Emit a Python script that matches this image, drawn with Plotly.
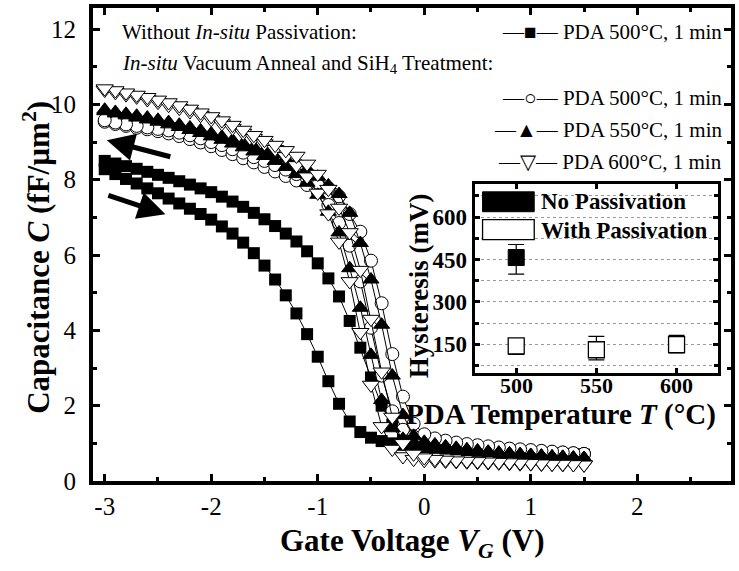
import plotly.graph_objects as go

# ---------------- data ----------------
gate_v = [-3.0, -2.9, -2.8, -2.7, -2.6, -2.5, -2.4, -2.3, -2.2, -2.1,
          -2.0, -1.9, -1.8, -1.7, -1.6, -1.5, -1.4, -1.3, -1.2, -1.1,
          -1.0, -0.9, -0.8, -0.7, -0.6, -0.5, -0.4, -0.3, -0.2, -0.1,
          0.0, 0.1, 0.2, 0.3, 0.4, 0.5, 0.6, 0.7, 0.8, 0.9,
          1.0, 1.1, 1.2, 1.3, 1.4, 1.5]

# No passivation, PDA 500C (filled squares)
sq_fwd = [8.28, 8.15, 8.02, 7.9, 7.77, 7.64, 7.5, 7.37, 7.23, 7.09,
          6.94, 6.76, 6.57, 6.33, 6.05, 5.72, 5.35, 4.93, 4.45, 3.9,
          3.3, 2.65, 2.05, 1.58, 1.3, 1.15, 1.06, 1.0, 0.96, 0.93,
          0.9, 0.88, 0.86, 0.84, 0.82, 0.8, 0.79, 0.77, 0.76, 0.75,
          0.74, 0.73, 0.72, 0.71, 0.7, 0.69]
sq_rev = [8.5, 8.43, 8.36, 8.29, 8.21, 8.13, 8.05, 7.96, 7.87, 7.77,
          7.67, 7.55, 7.42, 7.28, 7.12, 6.95, 6.77, 6.57, 6.36, 6.1,
          5.78, 5.38, 4.9, 4.25, 3.54, 2.75, 2.0, 1.5, 1.22, 1.08,
          1.0, 0.95, 0.91, 0.88, 0.85, 0.83, 0.81, 0.79, 0.78, 0.76,
          0.75, 0.74, 0.73, 0.72, 0.71, 0.7]

# Passivated, PDA 500C (open circles)
ci_fwd = [9.54, 9.48, 9.43, 9.38, 9.34, 9.29, 9.23, 9.16, 9.08, 8.99,
          8.89, 8.79, 8.68, 8.57, 8.46, 8.34, 8.22, 8.1, 7.98, 7.86,
          7.68, 7.33, 6.85, 6.25, 5.3, 4.07, 2.8, 1.85, 1.36, 1.18,
          1.1, 1.05, 1.01, 0.98, 0.95, 0.92, 0.89, 0.87, 0.85, 0.83,
          0.81, 0.79, 0.77, 0.75, 0.73, 0.72]
ci_rev = [9.58, 9.52, 9.47, 9.43, 9.39, 9.35, 9.31, 9.25, 9.18, 9.1,
          9.0, 8.92, 8.81, 8.72, 8.6, 8.5, 8.39, 8.27, 8.15, 8.03,
          7.92, 7.78, 7.56, 7.09, 6.62, 5.85, 4.72, 3.37, 2.24, 1.52,
          1.24, 1.13, 1.07, 1.02, 0.98, 0.95, 0.92, 0.89, 0.86, 0.84,
          0.82, 0.8, 0.78, 0.76, 0.74, 0.72]

# Passivated, PDA 550C (filled triangles)
tu_fwd = [9.82, 9.76, 9.71, 9.65, 9.6, 9.54, 9.47, 9.4, 9.32, 9.24,
          9.15, 9.06, 8.96, 8.86, 8.75, 8.63, 8.5, 8.34, 8.15, 7.92,
          7.6, 7.15, 6.6, 5.65, 4.6, 3.35, 2.15, 1.4, 1.12, 1.02,
          0.97, 0.93, 0.89, 0.86, 0.83, 0.8, 0.77, 0.75, 0.73, 0.71,
          0.69, 0.67, 0.65, 0.64, 0.62, 0.61]
tu_rev = [9.86, 9.8, 9.75, 9.7, 9.65, 9.59, 9.53, 9.46, 9.39, 9.31,
          9.23, 9.14, 9.05, 8.96, 8.87, 8.77, 8.67, 8.56, 8.44, 8.28,
          8.08, 7.85, 7.62, 7.12, 6.32, 5.35, 4.15, 2.8, 1.75, 1.2,
          1.04, 0.97, 0.92, 0.88, 0.84, 0.81, 0.78, 0.75, 0.73, 0.71,
          0.69, 0.67, 0.65, 0.64, 0.62, 0.61]

# Passivated, PDA 600C (open down triangles)
td_fwd = [10.38, 10.32, 10.26, 10.2, 10.13, 10.06, 9.98, 9.9, 9.81, 9.71,
          9.6, 9.49, 9.37, 9.24, 9.1, 8.96, 8.81, 8.62, 8.38, 8.08,
          7.65, 7.1, 6.35, 5.3, 3.95, 2.55, 1.45, 0.85, 0.65, 0.58,
          0.55, 0.54, 0.53, 0.52, 0.51, 0.5, 0.49, 0.48, 0.47, 0.46,
          0.46, 0.45, 0.45, 0.44, 0.44, 0.43]
td_rev = [10.42, 10.37, 10.31, 10.25, 10.19, 10.12, 10.05, 9.97, 9.88, 9.78,
          9.68, 9.57, 9.45, 9.32, 9.18, 9.05, 8.92, 8.78, 8.63, 8.42,
          8.15, 7.75, 7.25, 6.6, 5.6, 4.3, 2.9, 1.7, 1.0, 0.72,
          0.62, 0.58, 0.56, 0.54, 0.53, 0.52, 0.51, 0.5, 0.49, 0.48,
          0.47, 0.46, 0.45, 0.45, 0.44, 0.43]

x_ticks = [-3, -2, -1, 0, 1, 2]
x_tick_text = ["-3", "-2", "-1", "0", "1", "2"]
y_ticks = [0, 2, 4, 6, 8, 10, 12]
y_tick_text = ["0", "2", "4", "6", "8", "10", "12"]

# inset: hysteresis vs PDA temperature
pda_temp = [500, 550, 600]
hyst_nopass_t = [500]
hyst_nopass = [457]
hyst_nopass_up = [46]
hyst_nopass_dn = [59]
hyst_pass = [145, 131, 149]
hyst_pass_up = [8, 47, 33]
hyst_pass_dn = [30, 36, 29]
inset_x_ticks = [500, 550, 600]
inset_x_tick_text = ["500", "550", "600"]
inset_y_ticks = [150, 300, 450, 600]

SERIF = "Liberation Serif"

fig = go.Figure()

def loop(fwd, rev):
    return gate_v + gate_v[::-1], fwd + rev[::-1]

series = [
    ("Without passivation, PDA 500°C, 1 min", sq_fwd, sq_rev,
     dict(symbol="square", size=12, color="black", line=dict(width=0))),
    ("With passivation, PDA 500°C, 1 min", ci_fwd, ci_rev,
     dict(symbol="circle", size=13, color="white", line=dict(width=1, color="black"))),
    ("With passivation, PDA 550°C, 1 min", tu_fwd, tu_rev,
     dict(symbol="triangle-up", size=14, color="black", line=dict(width=1, color="black"))),
    ("With passivation, PDA 600°C, 1 min", td_fwd, td_rev,
     dict(symbol="triangle-down", size=15, color="white", line=dict(width=1, color="black"))),
]
for name, f, r, mk in series:
    xs, ys = loop(f, r)
    fig.add_trace(go.Scatter(x=xs, y=ys, mode="lines+markers", name=name,
                             line=dict(color="black", width=1), marker=mk,
                             showlegend=False, xaxis="x", yaxis="y"))

# inset traces
fig.add_trace(go.Scatter(x=hyst_nopass_t, y=hyst_nopass, mode="markers", name="No Passivation",
                         marker=dict(symbol="square", size=16, color="black", line=dict(width=1, color="black")),
                         error_y=dict(type="data", symmetric=False, array=hyst_nopass_up,
                                      arrayminus=hyst_nopass_dn, color="black", thickness=1.2, width=8),
                         showlegend=False, xaxis="x2", yaxis="y2"))
fig.add_trace(go.Scatter(x=pda_temp, y=hyst_pass, mode="markers", name="With Passivation",
                         marker=dict(symbol="square", size=16, color="white", line=dict(width=1.3, color="black")),
                         error_y=dict(type="data", symmetric=False, array=hyst_pass_up,
                                      arrayminus=hyst_pass_dn, color="black", thickness=1.2, width=8),
                         showlegend=False, xaxis="x2", yaxis="y2"))

axis_common = dict(showline=True, linewidth=4, linecolor="black", mirror="allticks",
                   ticks="inside", ticklen=7, tickwidth=3, tickcolor="black",
                   showgrid=False, zeroline=False,
                   tickfont=dict(family=SERIF, size=25, color="black"))

fig.update_layout(
    width=739, height=571,
    margin=dict(l=93, r=4, t=5, b=90),
    paper_bgcolor="white", plot_bgcolor="white",
    xaxis=dict(axis_common, range=[-3.11, 2.88], domain=[0, 1],
               tickmode="array", tickvals=x_ticks, ticktext=x_tick_text,
               ticklabelstandoff=0,
               minor=dict(ticks="inside", ticklen=4, tickwidth=3, tickcolor="black",
                          tickmode="linear", tick0=-3, dtick=0.5)),
    yaxis=dict(axis_common, range=[0, 12.56], domain=[0, 1],
               tickmode="array", tickvals=y_ticks, ticktext=y_tick_text,
               ticklabelstandoff=8,
               minor=dict(ticks="inside", ticklen=4, tickwidth=3, tickcolor="black",
                          tickmode="linear", tick0=0, dtick=1)),
    xaxis2=dict(showline=True, linewidth=3, linecolor="black", mirror="allticks",
                ticks="inside", ticklen=5, tickwidth=3, tickcolor="black",
                showgrid=False, zeroline=False, anchor="y2",
                domain=[0.598, 0.980], range=[474, 626],
                tickmode="array", tickvals=inset_x_ticks, showticklabels=False),
    yaxis2=dict(showline=True, linewidth=3, linecolor="black", mirror="allticks",
                ticks="inside", ticklen=5, tickwidth=3, tickcolor="black",
                showgrid=True, gridcolor="#9a9a9a", griddash="dot", gridwidth=1,
                zeroline=False, anchor="x2",
                domain=[0.229, 0.628], range=[50, 717],
                tickmode="array", tickvals=inset_y_ticks,
                tickfont=dict(family=SERIF, size=23, color="black", weight="bold"),
                ticklabelstandoff=0,
                minor=dict(ticks="inside", ticklen=4, tickwidth=3, tickcolor="black",
                           tickmode="linear", tick0=0, dtick=75,
                           showgrid=True, gridcolor="#9a9a9a", griddash="dot", gridwidth=1)),
)

def pxx(px):
    return (px - 93) / 642.0

def pxy(py):
    return (481 - py) / 476.0

ann = []
leg_font = dict(family=SERIF, size=21, color="black")
ann.append(dict(text="Without <i>In-situ</i> Passivation:", x=pxx(120), y=pxy(29),
                xanchor="left", yanchor="middle", font=leg_font))
ann.append(dict(text="—■— PDA 500°C, 1 min", x=pxx(728), y=pxy(29),
                xanchor="right", yanchor="middle", font=leg_font))
ann.append(dict(text="<i>In-situ</i> Vacuum Anneal and SiH<sub>4</sub> Treatment:", x=pxx(120), y=pxy(61),
                xanchor="left", yanchor="middle", font=leg_font))
ann.append(dict(text="—○— PDA 500°C, 1 min", x=pxx(728), y=pxy(96),
                xanchor="right", yanchor="middle", font=leg_font))
ann.append(dict(text="—▲— PDA 550°C, 1 min", x=pxx(728), y=pxy(128),
                xanchor="right", yanchor="middle", font=leg_font))
ann.append(dict(text="—▽— PDA 600°C, 1 min", x=pxx(728), y=pxy(160),
                xanchor="right", yanchor="middle", font=leg_font))

# axis titles
ann.append(dict(text="<b>Capacitance <i>C</i> (fF/µm<sup>2</sup>)</b>", x=pxx(36), y=pxy(256),
                textangle=-90, xanchor="center", yanchor="middle",
                font=dict(family=SERIF, size=31, color="black")))
ann.append(dict(text="<b>Gate Voltage <i>V</i><sub><i>G</i></sub> (V)</b>", x=pxx(415), y=pxy(543),
                xanchor="center", yanchor="middle",
                font=dict(family=SERIF, size=31, color="black")))
ann.append(dict(text="<b>Hysteresis (mV)</b>", x=pxx(421), y=pxy(284),
                textangle=-90, xanchor="center", yanchor="middle",
                font=dict(family=SERIF, size=27, color="black")))
ann.append(dict(text="<b>PDA Temperature <i>T</i> (°C)</b>", x=pxx(564), y=pxy(414),
                xanchor="center", yanchor="middle", borderpad=0,
                font=dict(family=SERIF, size=29, color="black")))
# inset legend text
ann.append(dict(text="<b>No Passivation</b>", x=pxx(542), y=pxy(200),
                xanchor="left", yanchor="middle", font=dict(family=SERIF, size=23, color="black")))
ann.append(dict(text="<b>With Passivation</b>", x=pxx(542), y=pxy(229),
                xanchor="left", yanchor="middle", font=dict(family=SERIF, size=23, color="black")))
for a in ann:
    a.update(xref="paper", yref="paper", showarrow=False)

# inset x tick labels
for tv, tt in zip(inset_x_ticks, inset_x_tick_text):
    ann.append(dict(text="<b>" + tt + "</b>", x=tv, xref="x2", y=pxy(385), yref="paper",
                    xanchor="center", yanchor="middle", showarrow=False, borderpad=0,
                    font=dict(family=SERIF, size=22, color="black")))

# sweep-direction arrows (data coords)
ann.append(dict(x=-2.98, y=9.05, ax=-2.37, ay=8.6, xref="x", yref="y", axref="x", ayref="y",
                showarrow=True, arrowhead=2, arrowsize=1.1, arrowwidth=5, arrowcolor="black", text=""))
ann.append(dict(x=-2.43, y=7.08, ax=-2.98, ay=7.6, xref="x", yref="y", axref="x", ayref="y",
                showarrow=True, arrowhead=2, arrowsize=1.1, arrowwidth=5, arrowcolor="black", text=""))
fig.update_layout(annotations=ann)

shapes = [
    dict(type="rect", xref="paper", yref="paper", x0=pxx(485), x1=pxx(537), y0=pxy(210), y1=pxy(190),
         fillcolor="black", line=dict(color="black", width=1), layer="above"),
    dict(type="rect", xref="paper", yref="paper", x0=pxx(485), x1=pxx(537), y0=pxy(238), y1=pxy(218),
         fillcolor="white", line=dict(color="black", width=1.3), layer="above"),
]
fig.update_layout(shapes=shapes)

fig.write_html("out.html")
